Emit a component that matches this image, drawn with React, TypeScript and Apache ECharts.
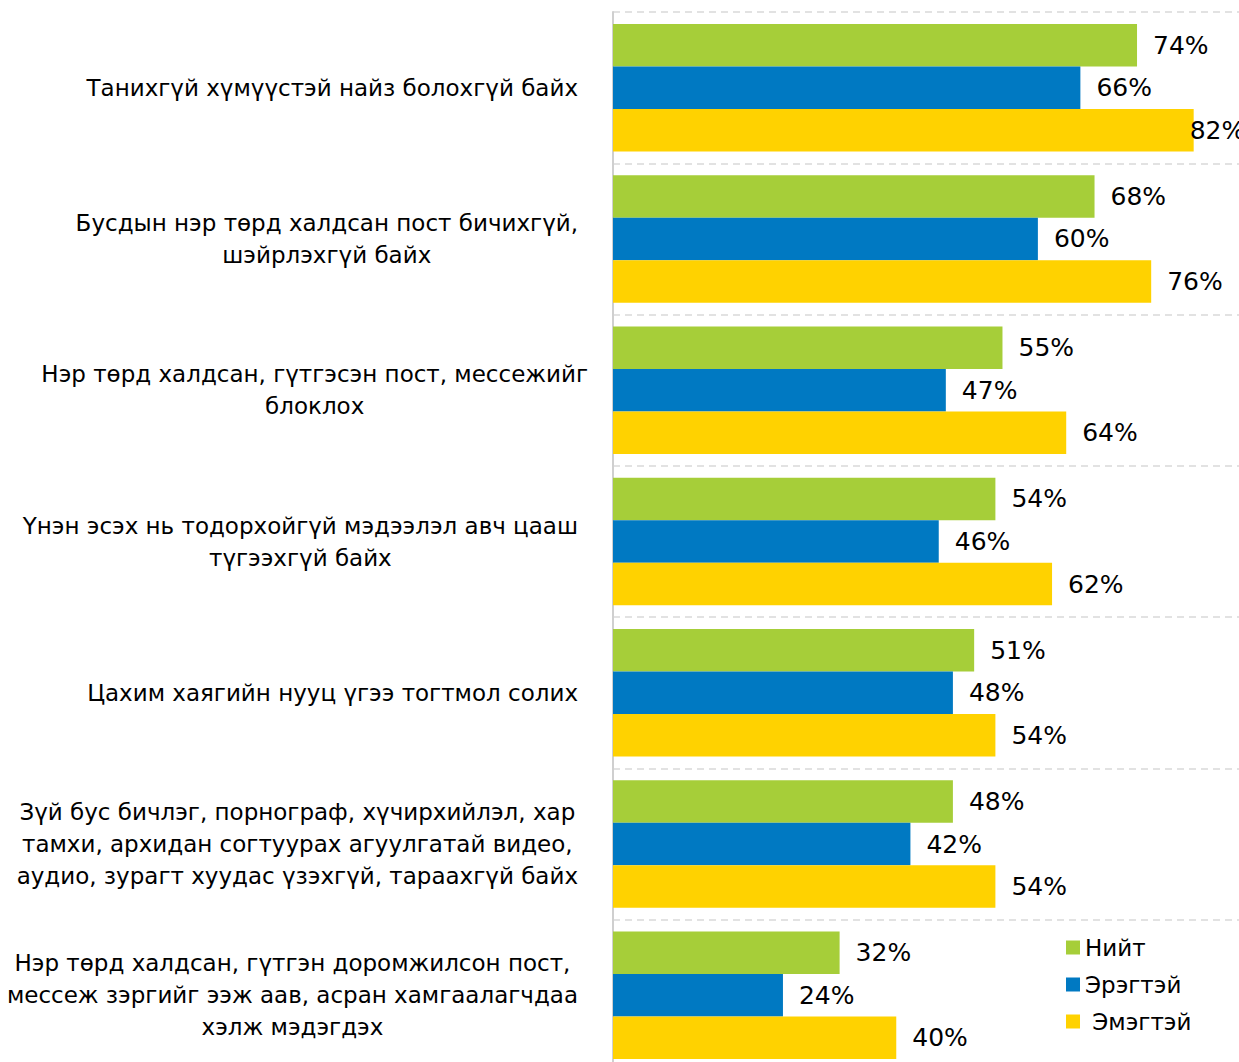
import React, { useEffect, useRef } from "react";
import * as echarts from "echarts";

const categories = [
  "Танихгүй хүмүүстэй найз болохгүй байх",
  "Бусдын нэр төрд халдсан пост бичихгүй,\nшэйрлэхгүй байх",
  "Нэр төрд халдсан, гүтгэсэн пост, мессежийг\nблоклох",
  "Үнэн эсэх нь тодорхойгүй мэдээлэл авч цааш\nтүгээхгүй байх",
  "Цахим хаягийн нууц үгээ тогтмол солих",
  "Зүй бус бичлэг, порнограф, хүчирхийлэл, хар\nтамхи, архидан согтуурах агуулгатай видео,\nаудио, зурагт хуудас үзэхгүй, тараахгүй байх",
  "Нэр төрд халдсан, гүтгэн доромжилсон пост,\nмессеж зэргийг ээж аав, асран хамгаалагчдаа\nхэлж мэдэгдэх",
];
const seriesNames = ["Нийт", "Эрэгтэй", " Эмэгтэй"];
const total = [74, 68, 55, 54, 51, 48, 32];
const male = [66, 60, 47, 46, 48, 42, 24];
const female = [82, 76, 64, 62, 54, 54, 40];
const colors = ["#A6CE39", "#0079C2", "#FFD200"];

const FONT = "'DejaVu Sans', sans-serif";

export default function App() {
  const ref = useRef<HTMLDivElement>(null);
  useEffect(() => {
    if (!ref.current) return;
    const chart = echarts.init(ref.current, undefined, { renderer: "svg" });
    const mk = (name: string, data: number[], color: string) => ({
      name,
      type: "bar",
      data: data.map((v) =>
        v >= 80 ? { value: v, label: { distance: -4 } } : v
      ),
      barGap: "0%",
      barCategoryGap: "15.7%",
      itemStyle: { color },
      label: {
        show: true,
        position: "right",
        distance: 16,
        formatter: "{c}%",
        color: "#000",
        fontSize: 25,
        fontFamily: FONT,
      },
    });
    const richBase = {
      align: "center",
      fontSize: 23,
      lineHeight: 32,
      color: "#000",
      fontFamily: FONT,
    };
    chart.setOption({
      animation: false,
      textStyle: { fontFamily: FONT },
      color: colors,
      legend: {
        orient: "vertical",
        left: 1061,
        top: 931,
        itemWidth: 14,
        itemHeight: 14,
        itemGap: 14,
        icon: "rect",
        textStyle: { fontSize: 23, color: "#000", fontFamily: FONT },
        data: seriesNames,
      },
      grid: { left: 613, right: 0, top: 12, height: 1059, containLabel: false },
      xAxis: {
        type: "value",
        min: 0,
        max: 88.4,
        show: false,
      },
      yAxis: {
        type: "category",
        inverse: true,
        data: categories,
        axisLine: { show: true, lineStyle: { color: "#CFCFCF", width: 2 } },
        axisTick: { show: false },
        splitLine: {
          show: true,
          lineStyle: { color: "#D9D9D9", type: [7, 5], width: 1.5 },
        },
        axisLabel: {
          margin: 25,
          fontSize: 23,
          lineHeight: 32,
          color: "#000",
          fontFamily: FONT,
          formatter: (v: string, i: number) => {
            const key = i === 2 ? "d" : "c";
            return v
              .split("\n")
              .map((l) => `{${key}|${l}}`)
              .join("\n");
          },
          rich: {
            c: { ...richBase, padding: [0, 10, 0, 0] },
            d: { ...richBase },
          },
        },
      },
      series: [
        mk(seriesNames[0], total, colors[0]),
        mk(seriesNames[1], male, colors[1]),
        mk(seriesNames[2], female, colors[2]),
      ],
    });
    return () => chart.dispose();
  }, []);
  return (
    <div
      ref={ref}
      style={{ position: "absolute", left: 0, top: 0, width: 1239, height: 1076 }}
    />
  );
}
